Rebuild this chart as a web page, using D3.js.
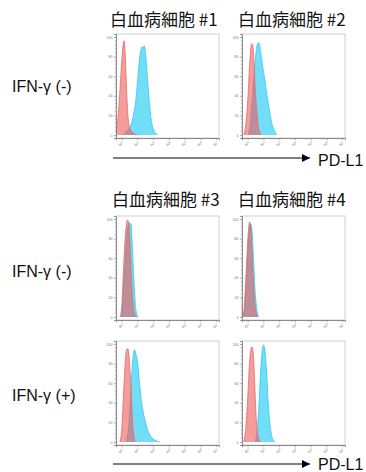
<!DOCTYPE html>
<html>
<head>
<meta charset="utf-8">
<script src="https://cdn.jsdelivr.net/npm/d3@7"></script>
<style>
  html, body { margin: 0; padding: 0; background: #fff; }
  svg { display: block; }
</style>
</head>
<body>
<svg id="chart" width="366" height="472"></svg>
<script>
// ---------- data (x = log10 fluorescence intensity, y = % of max) ----------
const titles = ["白血病細胞 #1", "白血病細胞 #2", "白血病細胞 #3", "白血病細胞 #4"];
const rowLabels = ["IFN-γ (-)", "IFN-γ (-)", "IFN-γ (+)"];
const axisLabel = "PD-L1";
const yTicks = [0, 20, 40, 60, 80, 100];
const xTickExponents = [1, 2, 3, 4, 5, 6, 7];

// cell #1, IFN-γ (-)
const cell1Control = [[0.64,5],[0.79,22],[0.93,56],[1.04,83],[1.15,96],[1.23,80],[1.31,46],[1.40,19],[1.52,7],[1.73,2],[1.95,0]];
const cell1PDL1 = [[1.10,0],[1.31,4],[1.52,8],[1.73,19],[1.90,36],[2.05,63],[2.16,81],[2.24,88],[2.30,90],[2.37,88],[2.43,91],[2.49,86],[2.58,70],[2.68,48],[2.79,27],[2.91,12],[3.06,4],[3.31,0]];
// cell #2, IFN-γ (-)
const cell2Control = [[0.75,0],[0.89,12],[1.02,39],[1.12,70],[1.23,92],[1.29,93],[1.38,80],[1.48,46],[1.59,22],[1.69,7],[1.86,0]];
const cell2PDL1 = [[1.02,0],[1.17,12],[1.27,32],[1.40,59],[1.52,83],[1.63,93],[1.71,94],[1.82,85],[1.95,70],[2.07,58],[2.22,41],[2.37,26],[2.53,12],[2.70,4],[2.87,0]];
// cell #3, IFN-γ (-)
const cell3Control = [[0.89,0],[1.00,9],[1.10,43],[1.21,78],[1.29,93],[1.38,99],[1.46,93],[1.55,67],[1.63,36],[1.71,16],[1.82,3],[1.95,0]];
const cell3PDL1 = [[0.98,0],[1.10,26],[1.21,53],[1.31,81],[1.42,94],[1.50,96],[1.59,95],[1.67,74],[1.76,43],[1.84,19],[1.95,3],[2.07,0]];
// cell #4, IFN-γ (-)
const cell4Control = [[0.64,0],[0.75,5],[0.85,29],[0.96,64],[1.04,86],[1.12,97],[1.21,89],[1.29,61],[1.40,26],[1.50,7],[1.65,0]];
const cell4PDL1 = [[0.68,0],[0.81,9],[0.91,36],[1.02,71],[1.10,90],[1.19,95],[1.27,89],[1.36,64],[1.46,29],[1.57,9],[1.69,0]];
// cell #3, IFN-γ (+)
const cell3IfnControl = [[0.89,0],[1.02,16],[1.12,50],[1.23,82],[1.31,94],[1.40,95],[1.48,85],[1.57,61],[1.65,33],[1.73,12],[1.86,0]];
const cell3IfnPDL1 = [[1.31,0],[1.48,23],[1.61,61],[1.71,85],[1.82,94],[1.90,90],[1.99,83],[2.11,64],[2.24,43],[2.37,30],[2.53,19],[2.70,10],[2.89,5],[3.10,2],[3.42,0]];
// cell #4, IFN-γ (+)
const cell4IfnControl = [[0.75,0],[0.89,16],[1.02,50],[1.12,82],[1.21,95],[1.27,97],[1.36,89],[1.44,61],[1.52,30],[1.63,9],[1.78,0]];
const cell4IfnPDL1 = [[1.44,0],[1.59,9],[1.71,36],[1.82,71],[1.90,90],[2.01,99],[2.09,94],[2.20,71],[2.30,40],[2.43,16],[2.58,3],[2.75,0]];

// ---------- layout ----------
const colX = [116, 242];
const rowY = [34, 216, 341];
const PW = 103, PH = 104;

const panels = [
  { col: 0, row: 0, control: cell1Control, stained: cell1PDL1 },
  { col: 1, row: 0, control: cell2Control, stained: cell2PDL1 },
  { col: 0, row: 1, control: cell3Control, stained: cell3PDL1 },
  { col: 1, row: 1, control: cell4Control, stained: cell4PDL1 },
  { col: 0, row: 2, control: cell3IfnControl, stained: cell3IfnPDL1 },
  { col: 1, row: 2, control: cell4IfnControl, stained: cell4IfnPDL1 }
];

const svg = d3.select("#chart");
const CJK = "'Noto Sans CJK JP', 'Noto Sans CJK SC', sans-serif";
const LATIN = "Arial, 'Liberation Sans', Helvetica, sans-serif";

const x = d3.scaleLog().domain([Math.pow(10, 0.64), Math.pow(10, 7.17)]).range([0, PW]);
const y = d3.scaleLinear().domain([-3, 103]).range([PH, 0]);

const area = d3.area()
  .x(d => x(Math.pow(10, d[0])))
  .y0(y(0))
  .y1(d => y(d[1]))
  .curve(d3.curveMonotoneX);
const line = d3.line()
  .x(d => x(Math.pow(10, d[0])))
  .y(d => y(d[1]))
  .curve(d3.curveMonotoneX);

panels.forEach((p, i) => {
  const g = svg.append("g").attr("transform", `translate(${colX[p.col]},${rowY[p.row]})`);
  const clipId = "clip" + i;
  g.append("clipPath").attr("id", clipId).append("rect").attr("width", PW).attr("height", PH);

  g.append("rect").attr("width", PW).attr("height", PH)
    .attr("fill", "#fff").attr("stroke", "#c4c4c4").attr("stroke-width", 0.8);

  const plot = g.append("g").attr("clip-path", `url(#${clipId})`);
  plot.append("path").datum(p.stained).attr("d", area)
    .attr("fill", "rgb(78,213,245)").attr("fill-opacity", 0.8);
  plot.append("path").datum(p.stained).attr("d", line)
    .attr("fill", "none").attr("stroke", "rgb(40,205,242)").attr("stroke-width", 0.8);
  plot.append("path").datum(p.control).attr("d", area)
    .attr("fill", "rgb(238,90,90)").attr("fill-opacity", 0.6);
  plot.append("path").datum(p.control).attr("d", line)
    .attr("fill", "none").attr("stroke", "rgb(238,100,100)").attr("stroke-width", 0.8);

  // y axis
  const yAxis = d3.axisLeft(y).tickValues(yTicks).tickSize(2).tickFormat(d3.format("d"));
  const ya = g.append("g").call(yAxis);
  ya.select(".domain").attr("stroke", "#777").attr("stroke-width", 0.8);
  ya.selectAll(".tick line").attr("stroke", "#777").attr("stroke-width", 0.6);
  ya.selectAll(".tick text").attr("font-size", 3.6).attr("fill", "#777")
    .attr("font-family", LATIN).attr("x", -3.5);
  const yMinor = d3.range(0, 101, 4).filter(v => yTicks.indexOf(v) < 0);
  g.append("g").selectAll("line").data(yMinor).join("line")
    .attr("x1", -1.2).attr("x2", 0).attr("y1", d => y(d)).attr("y2", d => y(d))
    .attr("stroke", "#888").attr("stroke-width", 0.5);

  // x axis
  const xMajor = xTickExponents.map(e => Math.pow(10, e));
  const xAxis = d3.axisBottom(x).tickValues(xMajor).tickSize(2.2).tickFormat("");
  const xa = g.append("g").attr("transform", `translate(0,${PH})`).call(xAxis);
  xa.select(".domain").attr("stroke", "#777").attr("stroke-width", 0.8);
  xa.selectAll(".tick line").attr("stroke", "#777").attr("stroke-width", 0.6);
  const xMinor = [];
  for (let e = 0; e <= 7; e++) for (let m = 2; m <= 9; m++) {
    const v = m * Math.pow(10, e);
    if (v >= x.domain()[0] && v <= x.domain()[1]) xMinor.push(v);
  }
  g.append("g").selectAll("line").data(xMinor).join("line")
    .attr("x1", d => x(d)).attr("x2", d => x(d)).attr("y1", PH).attr("y2", PH + 1.2)
    .attr("stroke", "#888").attr("stroke-width", 0.5);
  const lab = g.append("g").selectAll("text").data(xTickExponents).join("text")
    .attr("transform", e => `translate(${x(Math.pow(10, e))},${PH + 7}) rotate(-35)`)
    .attr("text-anchor", "middle").attr("font-size", 3.6).attr("fill", "#777")
    .attr("font-family", LATIN);
  lab.append("tspan").text("10");
  lab.append("tspan").attr("dy", -1.4).attr("font-size", 2.6).text(e => e);
});

// titles
const titlePos = [[110, 26], [238, 26], [112, 206], [238, 206]];
titles.forEach((t, i) => {
  svg.append("text").attr("x", titlePos[i][0]).attr("y", titlePos[i][1])
    .attr("font-family", CJK).attr("font-size", 17).attr("fill", "#111").text(t);
});

// row labels
const rowLabelY = [92, 277, 401];
rowLabels.forEach((t, i) => {
  svg.append("text").attr("x", 12).attr("y", rowLabelY[i])
    .attr("font-family", LATIN).attr("font-size", 16).attr("fill", "#111").text(t);
});

// arrows + PD-L1
const defs = svg.append("defs");
defs.append("marker").attr("id", "arrow").attr("viewBox", "0 0 10 10")
  .attr("refX", 10).attr("refY", 5).attr("markerWidth", 8).attr("markerHeight", 8)
  .attr("markerUnits", "userSpaceOnUse").attr("orient", "auto")
  .append("path").attr("d", "M0,0 L10,5 L0,10 Z").attr("fill", "#000");

const arrowRows = [[158, 166], [464, 470]];
arrowRows.forEach(([ly, ty]) => {
  svg.append("line").attr("x1", 113).attr("x2", 310).attr("y1", ly).attr("y2", ly)
    .attr("stroke", "#000").attr("stroke-width", 1).attr("marker-end", "url(#arrow)");
  svg.append("text").attr("x", 318).attr("y", ty)
    .attr("font-family", LATIN).attr("font-size", 16).attr("fill", "#111").text(axisLabel);
});
</script>
</body>
</html>
